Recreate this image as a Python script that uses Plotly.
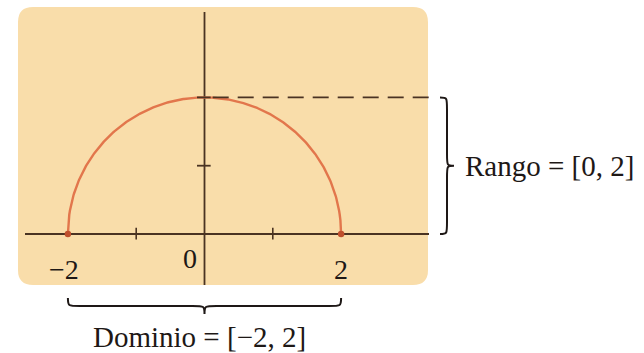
import numpy as np
import plotly.graph_objects as go

# Function shown: y = sqrt(4 - x^2), the upper half of a circle of radius 2
RADIUS = 2
DOMAIN = [-2, 2]
RANGE = [0, 2]
X_TICKS = [-2, -1, 0, 1, 2]
Y_TICKS = [1, 2]
X_TICK_LABELS = ["−2", "0", "2"]
X_TICK_LABEL_POS = [-2, 0, 2]
RANGE_TEXT = "Rango = [0, 2]"
DOMAIN_TEXT = "Dominio = [−2, 2]"

# Canvas geometry: pixels per unit and the pixel position of the origin
W, H = 644, 353
S = 68.3
OX, OY = 204.5, 234.0


def px(u):
    return (u - OX) / S


def py(v):
    return (OY - v) / S


PANEL = "#F9DDAA"
AXIS = "#4a3322"
CURVE = "#E2764C"
DOT = "#BF4F2D"
TEXT = "#1e1816"
FONT = "Liberation Serif"

xs = np.linspace(DOMAIN[0], DOMAIN[1], 401)
ys = np.sqrt(np.clip(RADIUS**2 - xs**2, 0, None))

fig = go.Figure()

# semicircle
fig.add_trace(go.Scatter(x=xs, y=ys, mode="lines",
                         line=dict(color=CURVE, width=2.4), hoverinfo="skip"))
# endpoints of the domain
fig.add_trace(go.Scatter(x=DOMAIN, y=[0, 0], mode="markers",
                         marker=dict(color=DOT, size=6.5), hoverinfo="skip"))

shapes = []


def rounded_rect(x0, y0, x1, y1, r):
    return (f"M {x0 + r} {y1} L {x1 - r} {y1} Q {x1} {y1} {x1} {y1 - r} "
            f"L {x1} {y0 + r} Q {x1} {y0} {x1 - r} {y0} L {x0 + r} {y0} "
            f"Q {x0} {y0} {x0} {y0 + r} L {x0} {y1 - r} Q {x0} {y1} {x0 + r} {y1} Z")


# background panel
shapes.append(dict(type="path", xref="x", yref="y", layer="below",
                   path=rounded_rect(px(18), py(285), px(428), py(7), 15 / S),
                   fillcolor=PANEL, line=dict(width=0)))

# coordinate axes
shapes.append(dict(type="line", xref="x", yref="y", x0=px(25), x1=px(429), y0=0, y1=0,
                   line=dict(color=AXIS, width=1.8), layer="below"))
shapes.append(dict(type="line", xref="x", yref="y", x0=0, x1=0, y0=py(285), y1=py(12),
                   line=dict(color=AXIS, width=1.8), layer="below"))

# tick marks
for t in X_TICKS:
    if t in DOMAIN or t == 0:
        continue
    shapes.append(dict(type="line", xref="x", yref="y", x0=t, x1=t, y0=-0.08, y1=0.09,
                       line=dict(color=AXIS, width=1.6)))
for t in Y_TICKS:
    shapes.append(dict(type="line", xref="x", yref="y", x0=-0.11, x1=0.09, y0=t, y1=t,
                       line=dict(color=AXIS, width=1.8)))

# dashed level line at the maximum of the range
shapes.append(dict(type="line", xref="x", yref="y", x0=0.12, x1=px(430),
                   y0=RANGE[1], y1=RANGE[1],
                   line=dict(color=AXIS, width=1.8, dash="16px,9px")))


def vbrace(x, y0, y1, w, r):
    ym = (y0 + y1) / 2
    return (f"M {x - w} {y1} C {x} {y1} {x} {y1} {x} {y1 - r} "
            f"L {x} {ym + r} C {x} {ym} {x} {ym} {x + w} {ym} "
            f"C {x} {ym} {x} {ym} {x} {ym - r} "
            f"L {x} {y0 + r} C {x} {y0} {x} {y0} {x - w} {y0}")


def hbrace(y, x0, x1, h, r):
    xm = (x0 + x1) / 2
    return (f"M {x0} {y + h} C {x0} {y} {x0} {y} {x0 + r} {y} "
            f"L {xm - r} {y} C {xm} {y} {xm} {y} {xm} {y - h} "
            f"C {xm} {y} {xm} {y} {xm + r} {y} "
            f"L {x1 - r} {y} C {x1} {y} {x1} {y} {x1} {y + h}")


# brace marking the range
shapes.append(dict(type="path", xref="x", yref="y",
                   path=vbrace(px(447), RANGE[0], RANGE[1], 7 / S, 12 / S),
                   line=dict(color=TEXT, width=2)))
# brace marking the domain
shapes.append(dict(type="path", xref="x", yref="y",
                   path=hbrace(py(306), DOMAIN[0], DOMAIN[1], 8 / S, 12 / S),
                   line=dict(color=TEXT, width=2)))

annotations = []
label_shift = {-2: -4, 0: -15, 2: 0}
label_y = {-2: py(269), 0: py(258), 2: py(269)}
for lab, pos in zip(X_TICK_LABELS, X_TICK_LABEL_POS):
    annotations.append(dict(x=pos, y=label_y[pos], xref="x", yref="y", text=lab,
                            showarrow=False, xanchor="center", yanchor="middle",
                            xshift=label_shift[pos],
                            font=dict(family=FONT, size=28, color=TEXT)))

annotations.append(dict(x=px(463), y=(RANGE[0] + RANGE[1]) / 2, xref="x", yref="y",
                        text=RANGE_TEXT, showarrow=False, xanchor="left", yanchor="middle",
                        font=dict(family=FONT, size=29, color=TEXT)))
annotations.append(dict(x=(DOMAIN[0] + DOMAIN[1]) / 2 - 0.08, y=py(337), xref="x", yref="y",
                        text=DOMAIN_TEXT, showarrow=False, xanchor="center", yanchor="middle",
                        font=dict(family=FONT, size=29, color=TEXT)))

fig.update_layout(
    width=W, height=H, autosize=False,
    margin=dict(l=0, r=0, t=0, b=0, pad=0),
    paper_bgcolor="white", plot_bgcolor="rgba(0,0,0,0)",
    showlegend=False,
    shapes=shapes, annotations=annotations,
    xaxis=dict(range=[px(0), px(W)], visible=False, fixedrange=True),
    yaxis=dict(range=[py(H), py(0)], visible=False, fixedrange=True),
)

fig.write_html("out.html", config={"displayModeBar": False})
